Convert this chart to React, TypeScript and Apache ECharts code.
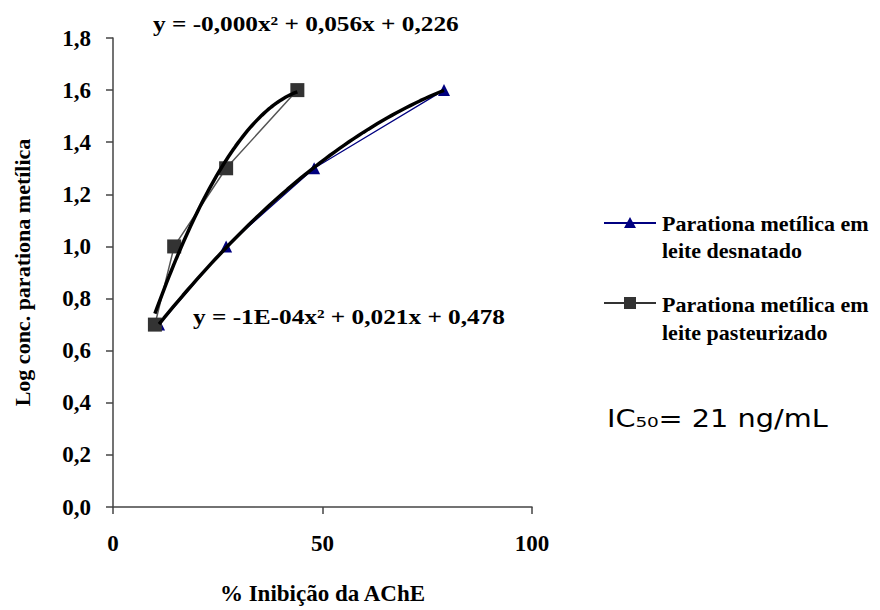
import React, { useEffect, useRef } from "react";
import * as echarts from "echarts";

// Log concentration levels (y) and % inhibition (x)
const logConc = [0.7, 1.0, 1.3, 1.6];
const inibDesnatado = [11, 27, 48, 79];
const inibPasteurizado = [10, 14.6, 27, 44];

const seriesNames = ["Parationa metílica em leite desnatado", "Parationa metílica em leite pasteurizado"];
const legendLines1 = ["Parationa metílica em", "leite desnatado"];
const legendLines2 = ["Parationa metílica em", "leite pasteurizado"];
const eqPasteurizado = "y = -0,000x² + 0,056x + 0,226";
const eqDesnatado = "y = -1E-04x² + 0,021x + 0,478";
const ic50Text = "IC₅₀= 21 ng/mL";
const xTitle = "% Inibição da AChE";
const yTitle = "Log conc. parationa metílica";

// least-squares quadratic fit of the data (Excel-style polynomial trendline)
function quadFit(xs: number[], ys: number[]) {
  let s0 = xs.length, s1 = 0, s2 = 0, s3 = 0, s4 = 0, t0 = 0, t1 = 0, t2 = 0;
  for (let i = 0; i < xs.length; i++) {
    const x = xs[i], y = ys[i];
    s1 += x; s2 += x * x; s3 += x * x * x; s4 += x * x * x * x;
    t0 += y; t1 += x * y; t2 += x * x * y;
  }
  const M = [
    [s4, s3, s2, t2],
    [s3, s2, s1, t1],
    [s2, s1, s0, t0],
  ];
  for (let i = 0; i < 3; i++) {
    let p = i;
    for (let r = i + 1; r < 3; r++) if (Math.abs(M[r][i]) > Math.abs(M[p][i])) p = r;
    [M[i], M[p]] = [M[p], M[i]];
    for (let r = 0; r < 3; r++) {
      if (r === i) continue;
      const f = M[r][i] / M[i][i];
      for (let c = i; c < 4; c++) M[r][c] -= f * M[i][c];
    }
  }
  return [M[0][3] / M[0][0], M[1][3] / M[1][1], M[2][3] / M[2][2]];
}

function trend(xs: number[], ys: number[]) {
  const [a, b, c] = quadFit(xs, ys);
  const lo = Math.min(...xs), hi = Math.max(...xs);
  const pts: number[][] = [];
  const n = 60;
  for (let i = 0; i <= n; i++) {
    const x = lo + ((hi - lo) * i) / n;
    pts.push([x, a * x * x + b * x + c]);
  }
  return pts;
}

const serif = "'Liberation Serif', 'Times New Roman', serif";

export default function App() {
  const ref = useRef<HTMLDivElement>(null);
  useEffect(() => {
    if (!ref.current) return;
    const chart = echarts.init(ref.current, null, { renderer: "svg" });
    const axisLabel = { fontFamily: serif, fontWeight: "bold" as const, fontSize: 23, color: "#000" };
    const legendText = (x: number, y: number, t: string) => ({
      type: "text", x, y,
      style: { text: t, fontFamily: serif, fontWeight: "bold", fontSize: 22, fill: "#000", verticalAlign: "middle" },
    });
    chart.setOption({
      animation: false,
      backgroundColor: "#fff",
      grid: { left: 113, right: 348, top: 38, bottom: 96 },
      xAxis: {
        type: "value", min: 0, max: 100, interval: 50,
        name: xTitle, nameLocation: "middle", nameGap: 75,
        nameTextStyle: { fontFamily: serif, fontWeight: "bold", fontSize: 23, color: "#000" },
        axisLine: { show: true, lineStyle: { color: "#444", width: 1.5 } },
        axisTick: { show: true, length: 7, lineStyle: { color: "#444", width: 1.5 } },
        splitLine: { show: false },
        axisLabel: { ...axisLabel, margin: 25 },
      },
      yAxis: {
        type: "value", min: 0, max: 1.8, interval: 0.2,
        name: yTitle, nameLocation: "middle", nameGap: 80,
        nameTextStyle: { fontFamily: serif, fontWeight: "bold", fontSize: 22, color: "#000" },
        axisLine: { show: true, lineStyle: { color: "#444", width: 1.5 } },
        axisTick: { show: true, length: 7, lineStyle: { color: "#444", width: 1.5 } },
        splitLine: { show: false },
        axisLabel: { ...axisLabel, margin: 22, formatter: (v: number) => v.toFixed(1).replace(".", ",") },
      },
      series: [
        {
          name: seriesNames[0], type: "line",
          data: inibDesnatado.map((x, i) => [x, logConc[i]]),
          symbol: "triangle", symbolSize: 12,
          itemStyle: { color: "#000080" },
          lineStyle: { color: "#000080", width: 1.2 },
          z: 2,
        },
        {
          name: seriesNames[1], type: "line",
          data: inibPasteurizado.map((x, i) => [x, logConc[i]]),
          symbol: "rect", symbolSize: 14,
          itemStyle: { color: "#333" },
          lineStyle: { color: "#555", width: 1.5 },
          z: 2,
        },
        {
          type: "line", data: trend(inibDesnatado, logConc), symbol: "none",
          lineStyle: { color: "#000", width: 3.5 }, z: 5, silent: true,
        },
        {
          type: "line", data: trend(inibPasteurizado, logConc), symbol: "none",
          lineStyle: { color: "#000", width: 3.5 }, z: 5, silent: true,
        },
      ],
      graphic: [
        {
          type: "text", x: 153, y: 24, scaleX: 1.15,
          style: { text: eqPasteurizado, fontFamily: serif, fontWeight: "bold", fontSize: 22, fill: "#000", verticalAlign: "middle" },
        },
        {
          type: "text", x: 193, y: 317, scaleX: 1.15,
          style: { text: eqDesnatado, fontFamily: serif, fontWeight: "bold", fontSize: 22, fill: "#000", verticalAlign: "middle" },
        },
        { type: "line", shape: { x1: 604, y1: 223, x2: 656, y2: 223 }, style: { stroke: "#000080", lineWidth: 2 } },
        { type: "polygon", shape: { points: [[630, 217], [636, 228], [624, 228]] }, style: { fill: "#000080" } },
        legendText(662, 223, legendLines1[0]),
        legendText(662, 250, legendLines1[1]),
        { type: "line", shape: { x1: 604, y1: 303, x2: 656, y2: 303 }, style: { stroke: "#333", lineWidth: 2 } },
        { type: "rect", shape: { x: 624, y: 297, width: 12, height: 12 }, style: { fill: "#333" } },
        legendText(662, 304, legendLines2[0]),
        legendText(662, 332, legendLines2[1]),
        {
          type: "text", x: 607, y: 418, scaleX: 1.15,
          style: { text: ic50Text, fontFamily: "'DejaVu Sans', sans-serif", fontSize: 25, fill: "#000", verticalAlign: "middle" },
        },
      ],
    });
    return () => chart.dispose();
  }, []);
  return <div ref={ref} style={{ position: "absolute", left: 0, top: 0, width: 880, height: 610 }} />;
}
